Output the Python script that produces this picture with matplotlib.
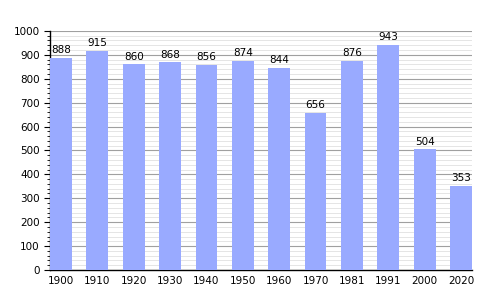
import matplotlib.pyplot as plt
from matplotlib.ticker import MultipleLocator

years = ["1900", "1910", "1920", "1930", "1940", "1950", "1960", "1970",
         "1981", "1991", "2000", "2020"]
population = [888, 915, 860, 868, 856, 874, 844, 656, 876, 943, 504, 353]

fig = plt.figure(figsize=(5, 3), dpi=100)
ax = fig.add_axes([0.1, 0.1, 0.844, 0.797])

x = range(len(years))
bars = ax.bar(x, population, width=0.6, color="#99aaff", zorder=3)
for bar, val in zip(bars, population):
    ax.text(bar.get_x() + bar.get_width() / 2, val + 12, str(val),
            ha="center", va="bottom", fontsize=7.5, zorder=4)

ax.set_xlim(-0.3, len(years) - 0.7)
ax.set_ylim(0, 1000)
ax.set_xticks(list(x))
ax.set_xticklabels(years)
ax.yaxis.set_major_locator(MultipleLocator(100))
ax.yaxis.set_minor_locator(MultipleLocator(20))
ax.grid(axis="y", which="major", color="#a0a0a0", linewidth=0.8, zorder=1)
ax.grid(axis="y", which="minor", color="#e0e0e0", linewidth=0.6, zorder=0)
ax.tick_params(axis="x", length=0, labelsize=7.5, pad=4)
ax.tick_params(axis="y", which="major", length=4, width=0.8, labelsize=7.5)
ax.tick_params(axis="y", which="minor", length=2, width=0.6)
for side in ("top", "right"):
    ax.spines[side].set_visible(False)
ax.spines["left"].set_linewidth(1.0)
ax.spines["bottom"].set_linewidth(1.0)

fig.savefig("out.png", dpi=100)
